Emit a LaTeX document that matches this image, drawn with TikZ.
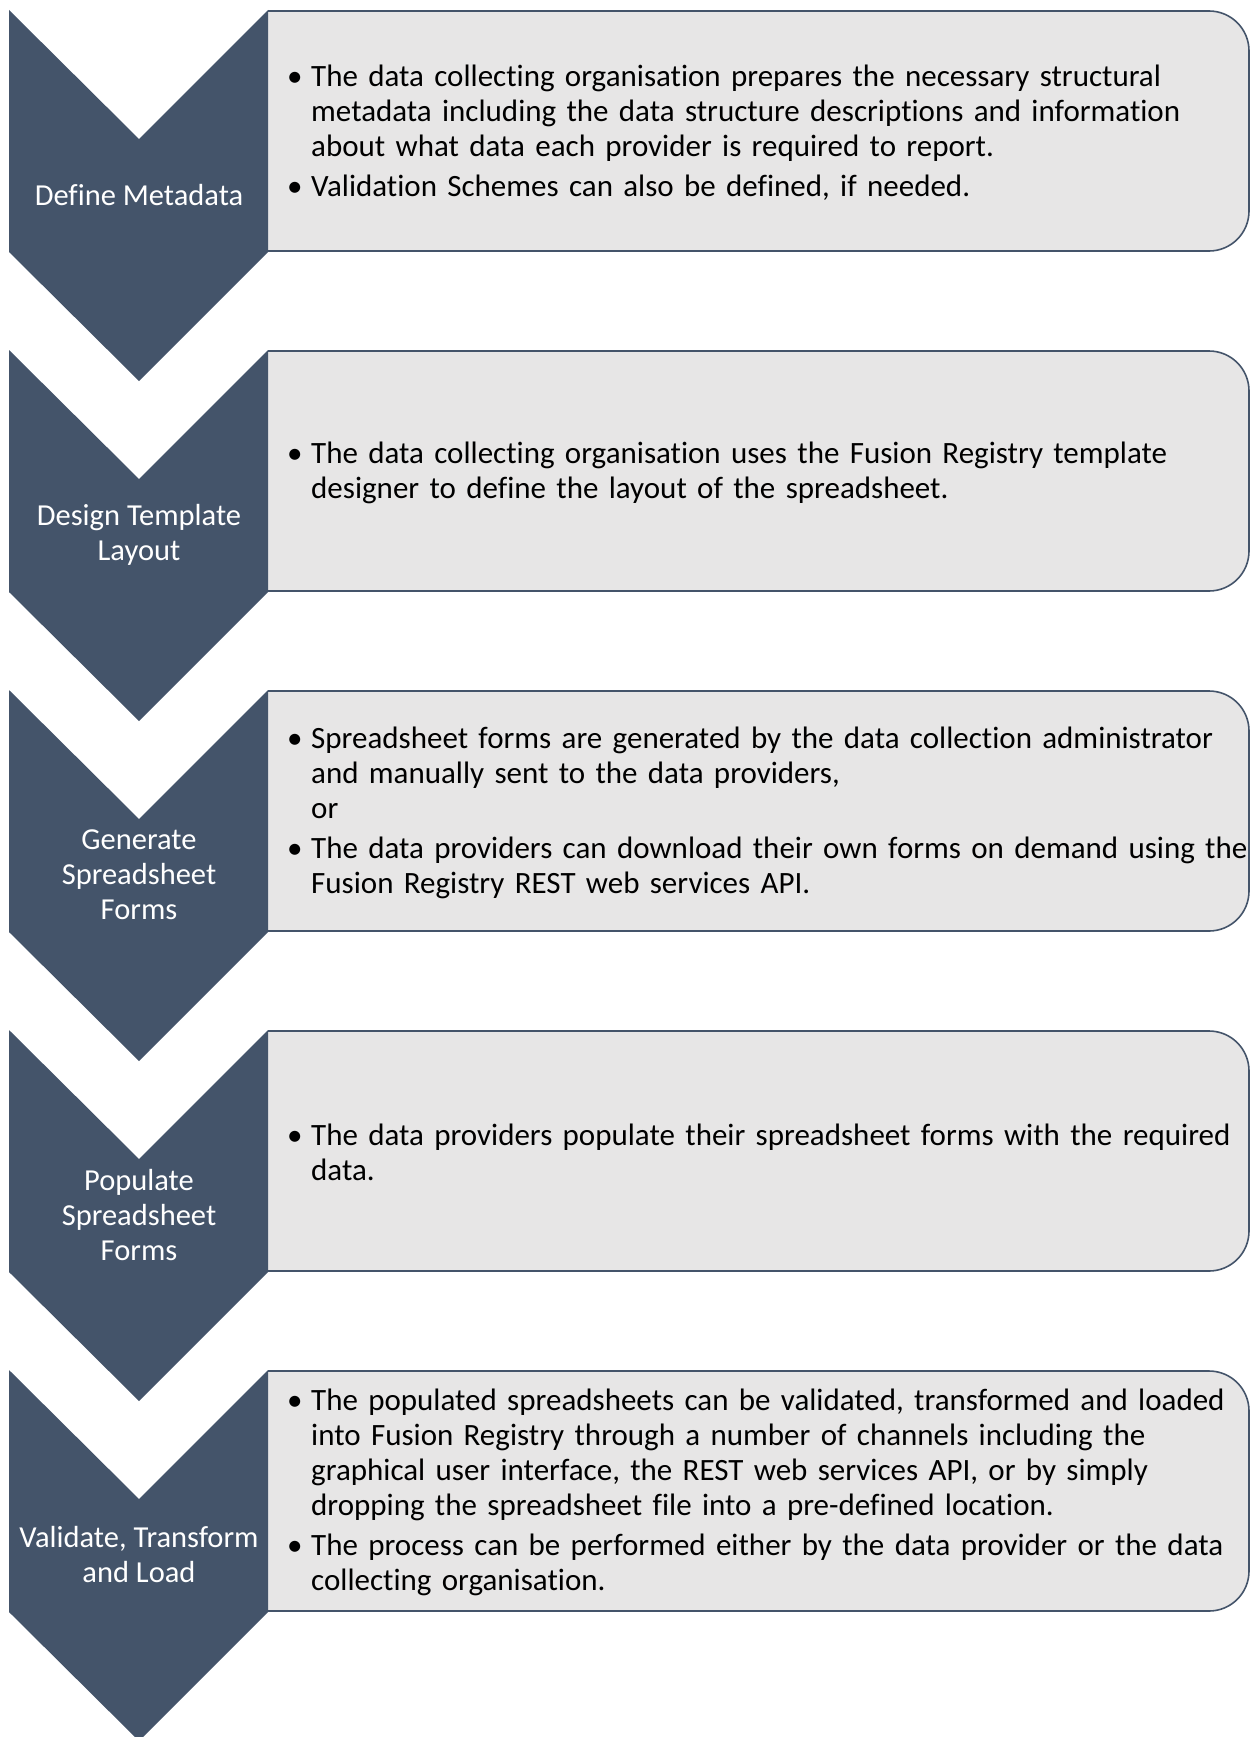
\documentclass[tikz,border=0pt]{standalone}
\usepackage{fontspec}
\setmainfont{Carlito}[Ligatures={NoCommon}]
\usepackage{xcolor}
\usepackage{tikz}
\usetikzlibrary{positioning}

\definecolor{slate}{HTML}{44546A}
\definecolor{boxgray}{HTML}{E7E6E6}

% bullet line with hanging indent
\newcommand{\bul}[1]{\par\hangindent=24pt\hangafter=1\noindent\makebox[24pt][l]{\textbullet}#1}

\begin{document}
\begin{tikzpicture}[
    x=1pt, y=-1pt,
    chevron/.style={fill=slate},
    infobox/.style={fill=boxgray, draw=slate, line width=1.6pt, rounded corners=40pt},
    steplabel/.style={text=white, align=center, font=\fontsize{30.5}{35}\selectfont, inner sep=0pt},
    infotext/.style={anchor=west, text width=1000pt, inner sep=0pt,
        font=\fontsize{31}{35}\selectfont\raggedright}
]
    \useasboundingbox (0,0) rectangle (1250,1737);

    % chevrons and boxes
    \foreach \t in {10,350,690,1030,1370} {
        \filldraw[infobox] (268,\t+1) -- (1249,\t+1) -- (1249,\t+241) -- (268,\t+241);
        \fill[chevron] (9,\t) -- (139,\t+129) -- (268,\t) -- (268,\t+242)
            -- (139,\t+371) -- (9,\t+242) -- cycle;
    }

    % step labels
    \node[steplabel] (define) at (139,195) {Define Metadata};
    \node[steplabel] (design) at (139,535) {Design Template\\Layout};
    \node[steplabel] (generate) at (139,875) {Generate\\Spreadsheet\\Forms};
    \node[steplabel] (populate) at (139,1215) {Populate\\Spreadsheet\\Forms};
    \node[steplabel] (validate) at (139,1555) {Validate, Transform\\and Load};

    % box texts
    \node[infotext] (define_text) at (287,126) {%
        \bul{The data collecting organisation prepares the necessary structural\newline
        metadata including the data structure descriptions and information\newline
        about what data each provider is required to report.}\par\vspace{5pt}
        \bul{Validation Schemes can also be defined, if needed.}\par};
    \node[infotext] (design_text) at (287,466) {%
        \bul{The data collecting organisation uses the Fusion Registry template\newline
        designer to define the layout of the spreadsheet.}\par};
    \node[infotext] (generate_text) at (287,806) {%
        \bul{Spreadsheet forms are generated by the data collection administrator\newline
        and manually sent to the data providers,\newline
        or}\par\vspace{5pt}
        \bul{The data providers can download their own forms on demand using the\newline
        Fusion Registry REST web services API.}\par};
    \node[infotext] (populate_text) at (287,1146) {%
        \bul{The data providers populate their spreadsheet forms with the required\newline
        data.}\par};
    \node[infotext] (validate_text) at (287,1486) {%
        \bul{The populated spreadsheets can be validated, transformed and loaded\newline
        into Fusion Registry through a number of channels including the\newline
        graphical user interface, the REST web services API, or by simply\newline
        dropping the spreadsheet file into a pre-defined location.}\par\vspace{5pt}
        \bul{The process can be performed either by the data provider or the data\newline
        collecting organisation.}\par};
\end{tikzpicture}
\end{document}
